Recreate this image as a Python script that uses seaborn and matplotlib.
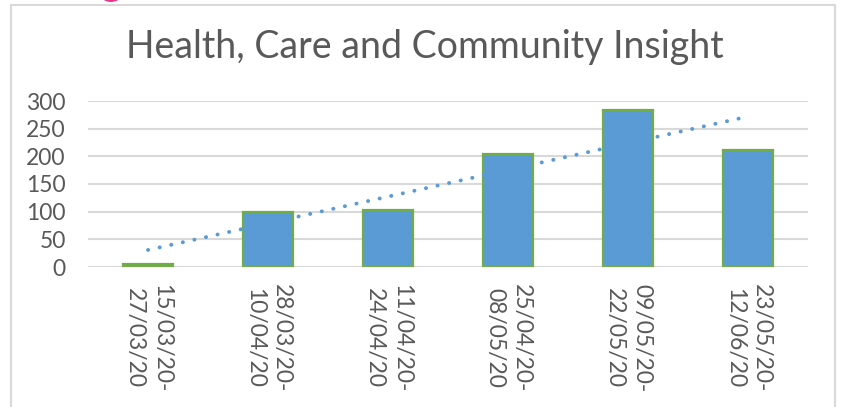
import numpy as np
import pandas as pd
import matplotlib
matplotlib.use("Agg")
import matplotlib.pyplot as plt
import seaborn as sns
from matplotlib.patches import Rectangle, Ellipse

categories = ["15/03/20-\n27/03/20", "28/03/20-\n10/04/20", "11/04/20-\n24/04/20",
              "25/04/20-\n08/05/20", "09/05/20-\n22/05/20", "23/05/20-\n12/06/20"]
values = [5, 100, 103, 204, 284, 212]
yticks = [0, 50, 100, 150, 200, 250, 300]
title = "Health, Care and Community Insight"

sns.set_theme(style="white")
plt.rcParams['font.family'] = ['Lato', 'DejaVu Sans']

W, H = 841, 407
fig = plt.figure(figsize=(W / 100, H / 100), dpi=100)
ax = fig.add_axes([88 / W, (H - 267) / H, 720 / W, 166 / H])

df = pd.DataFrame({"period": categories, "count": values, "idx": np.arange(len(values))})

sns.barplot(data=df, x="period", y="count", color="#5b9bd5", saturation=1,
            width=0.41, edgecolor="#70ad47", linewidth=1.6, ax=ax, zorder=3)
sns.regplot(data=df, x="idx", y="count", scatter=False, ci=None, truncate=True,
            ax=ax, line_kws=dict(color="#5b9bd5", ls=(0, (0.05, 3.0)), lw=2.8,
                                 dash_capstyle="round", zorder=4))

ax.set_xlim(-0.5, 5.5)
ax.set_ylim(0, 300)
ax.set_yticks(yticks)
ax.set_yticklabels([str(v) for v in yticks])
ax.yaxis.grid(True, color="#d9d9d9", lw=1.5, zorder=0)
ax.set_axisbelow(True)
for s in ax.spines.values():
    s.set_visible(False)
ax.axhline(0, color="#d9d9d9", lw=1.5, zorder=1)
ax.set_xlabel("")
ax.set_ylabel("")
ax.tick_params(axis="y", length=0, pad=16, labelsize=16.5, labelcolor="#595959")
ax.tick_params(axis="x", length=0, pad=12, labelsize=16.5, labelcolor="#595959")
for lab in ax.get_xticklabels():
    lab.set_rotation(-90)
    lab.set_ha("center")
    lab.set_va("top")
    lab.set_rotation_mode("default")
    lab.set_linespacing(1.35)

fig.text(425 / W, 1 - 47 / H, title, ha="center", va="center", fontsize=27, color="#595959")

# outer chart frame
fig.patches.append(Rectangle((11 / W, -0.05), (835 - 11) / W, (H - 5) / H + 0.05,
                             transform=fig.transFigure, fill=False,
                             edgecolor="#d9d9d9", lw=1.5))
# partial pink marker at top edge
fig.patches.append(Ellipse((111 / W, 1 + 8 / H), 24 / W, 20 / H,
                           transform=fig.transFigure, color="#e8338f", lw=0))

fig.savefig("out.png", dpi=100)
